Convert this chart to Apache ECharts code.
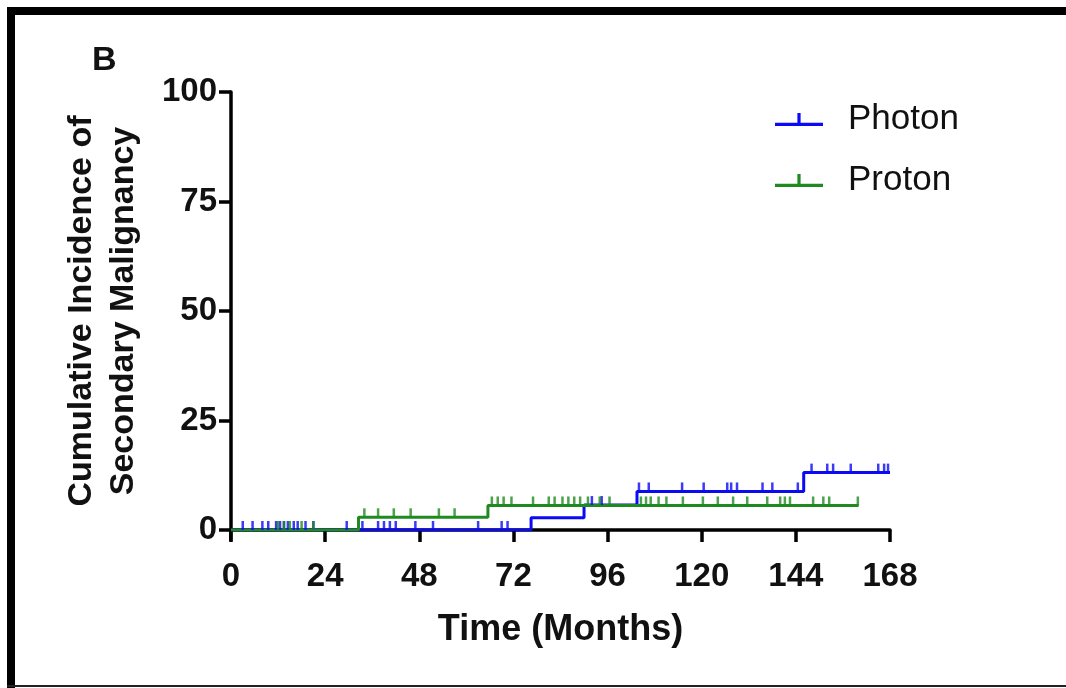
<!DOCTYPE html>
<html>
<head>
<meta charset="utf-8">
<script src="https://cdn.jsdelivr.net/npm/echarts@6/dist/echarts.min.js"></script>
<style>
  html, body { margin: 0; padding: 0; background: #fff; }
  #chart { width: 1066px; height: 688px; }
</style>
</head>
<body>
<div id="chart"></div>
<script>
// Cumulative incidence of secondary malignancy, photon vs proton (panel B).

const BLUE  = '#0a0af5';
const GREEN = '#1f8a1f';
const FONT  = '"Liberation Sans", Arial, sans-serif';

const xTicks = [0, 24, 48, 72, 96, 120, 144, 168];
const yTicks = [0, 25, 50, 75, 100];

// step curves: [month, cumulative incidence %]
const photonSteps = [[0, 0], [76.5, 2.8], [90, 5.7], [103.5, 8.8], [146, 13.1], [168, 13.1]];
const protonSteps = [[0, 0], [32.5, 2.9], [65.5, 5.6], [160, 5.6]];

// censored times (months)
const photonCensor = [3, 5.5, 8, 9.5, 11.5, 12.5, 13.5, 14.5, 16, 17, 19, 21, 29.5, 33.5,
  37.5, 39, 40.5, 42, 47, 51.5, 63, 69, 70.5, 92, 94.5, 104, 106.5, 115, 120.5, 126.5,
  127.5, 129, 135.5, 138, 144.5, 148, 152, 153.5, 158, 165, 166.5, 167.5];
const protonCensor = [12, 13.5, 15, 18, 21, 34, 37.5, 41.5, 45.8, 53, 57, 66.5, 68, 69.5,
  71.5, 77, 81, 82.5, 84.5, 86, 87.5, 89, 91, 94, 96.5, 104.5, 105.8, 107, 109, 111, 115.2,
  120.3, 124.1, 128, 131.6, 136.7, 140, 141.2, 142.5, 148.4, 151, 152.5, 159.8];

// level of a step curve at time t
function levelAt(steps, t) {
  let v = 0;
  for (const [x, y] of steps) { if (x <= t) v = y; }
  return v;
}

const legendIcon = 'path://M0,9h21v-9h3v9h21v3h-45z';

const chart = echarts.init(document.getElementById('chart'));

function stepSeries(name, color, steps) {
  return {
    name: name,
    type: 'line',
    step: 'end',
    data: steps,
    showSymbol: false,
    lineStyle: { color: color, width: 3 },
    itemStyle: { color: color },
    z: 3
  };
}

function censorSeries(name, color, steps, times) {
  return {
    name: name,
    type: 'scatter',
    data: times.map(t => [t, levelAt(steps, t)]),
    symbol: 'rect',
    symbolSize: [2.5, 9],
    symbolOffset: [0, -4.5],
    itemStyle: { color: color },
    z: 4
  };
}

chart.setOption({
  animation: false,
  backgroundColor: '#ffffff',
  textStyle: { fontFamily: FONT },
  grid: { left: 231, right: 176, top: 92, bottom: 158 },
  legend: {
    orient: 'vertical',
    left: 770,
    top: 97,
    itemWidth: 48,
    itemHeight: 13,
    itemGap: 26,
    textStyle: { fontSize: 35, color: '#111', fontFamily: FONT, padding: [0, 0, 0, 20] },
    data: [
      { name: 'Photon', icon: legendIcon, itemStyle: { color: BLUE } },
      { name: 'Proton', icon: legendIcon, itemStyle: { color: GREEN } }
    ]
  },
  xAxis: {
    type: 'value',
    min: 0,
    max: 168,
    interval: 24,
    name: 'Time (Months)',
    nameLocation: 'middle',
    nameGap: 82,
    nameTextStyle: { fontSize: 36, fontWeight: 'bold', color: '#111', fontFamily: FONT },
    axisLine: { onZero: false, lineStyle: { color: '#000', width: 3.5 } },
    axisTick: { show: true, length: 12, lineStyle: { color: '#000', width: 3.5 } },
    axisLabel: {
      fontSize: 33, fontWeight: 'bold', color: '#111', margin: 30, fontFamily: FONT,
      formatter: v => xTicks.includes(v) ? String(v) : ''
    },
    splitLine: { show: false }
  },
  yAxis: {
    type: 'value',
    min: 0,
    max: 100,
    interval: 25,
    name: 'Cumulative Incidence of\nSecondary Malignancy',
    nameLocation: 'middle',
    nameRotate: 90,
    nameGap: 86,
    nameTextStyle: { fontSize: 34, fontWeight: 'bold', color: '#111', lineHeight: 42, fontFamily: FONT },
    axisLine: { show: true, lineStyle: { color: '#000', width: 3.5 } },
    axisTick: { show: true, length: 12, lineStyle: { color: '#000', width: 3.5 } },
    axisLabel: {
      fontSize: 33, fontWeight: 'bold', color: '#111', margin: 14, fontFamily: FONT,
      formatter: v => yTicks.includes(v) ? String(v) : ''
    },
    splitLine: { show: false }
  },
  graphic: [
    { type: 'rect', shape: { x: 7, y: 7, width: 1059, height: 8 }, style: { fill: '#000' } },
    { type: 'rect', shape: { x: 7, y: 7, width: 8, height: 681 }, style: { fill: '#000' } },
    { type: 'rect', shape: { x: 7, y: 685, width: 1059, height: 2 }, style: { fill: '#222' } },
    { type: 'rect', shape: { x: 229, y: 530, width: 3.5, height: 11 }, style: { fill: '#000' } },
    {
      type: 'text', left: 92, top: 44,
      style: { text: 'B', font: 'bold 34px ' + FONT, fill: '#111' }
    }
  ],
  series: [
    stepSeries('Photon', BLUE, photonSteps),
    stepSeries('Proton', GREEN, protonSteps),
    censorSeries('Photon', BLUE, photonSteps, photonCensor),
    censorSeries('Proton', GREEN, protonSteps, protonCensor)
  ]
});
</script>
</body>
</html>
